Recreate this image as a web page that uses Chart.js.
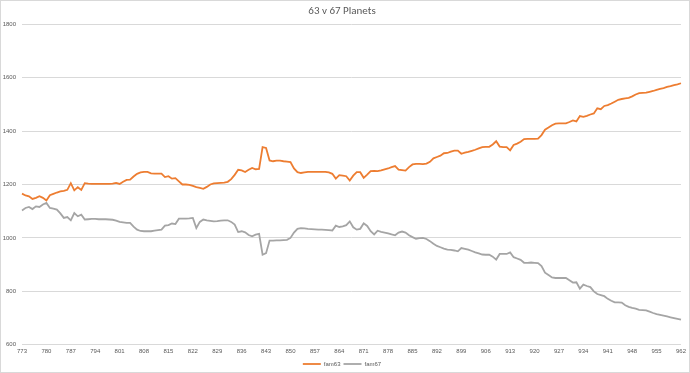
<!DOCTYPE html>
<html>
<head>
<meta charset="utf-8">
<script src="https://cdn.jsdelivr.net/npm/chart.js@4"></script>
<style>
  body { margin: 0; background: #fff; }
  #wrap { width: 690px; height: 373px; box-sizing: border-box; border: 1px solid #d9d9d9; position: relative; }
</style>
</head>
<body>
<div id="wrap"><canvas id="chart"></canvas></div>
<script>
'use strict'

const firstYear = 773
const lastYear = 962
const labelStep = 7

const yTicks = [600, 800, 1000, 1200, 1400, 1600, 1800]

const fam63 = [
  1166, 1159, 1156, 1146, 1150, 1156, 1150, 1140, 1160, 1165,
  1170, 1174, 1176, 1180, 1205, 1178, 1190, 1180, 1205, 1203,
  1202, 1202, 1202, 1202, 1202, 1202, 1203, 1206, 1202, 1210,
  1217, 1218, 1230, 1240, 1245, 1247, 1247, 1242, 1241, 1241,
  1241, 1228, 1231, 1222, 1224, 1212, 1200, 1200, 1199, 1195,
  1190, 1187, 1184, 1191, 1200, 1204, 1205, 1206, 1207, 1210,
  1220, 1236, 1255, 1253, 1247, 1255, 1262, 1257, 1258, 1340,
  1337, 1290, 1287, 1289, 1289, 1287, 1286, 1284, 1260, 1246,
  1243, 1245, 1247, 1247, 1247, 1247, 1247, 1247, 1245, 1240,
  1222, 1235, 1233, 1231, 1215, 1233, 1246, 1246, 1225, 1237,
  1250, 1251, 1250, 1253, 1257, 1260, 1265, 1269, 1256, 1254,
  1252, 1265, 1275, 1277, 1277, 1276, 1278, 1285, 1298, 1303,
  1308, 1317, 1318, 1323, 1327, 1327, 1315, 1319, 1322, 1326,
  1330, 1335, 1340, 1341, 1341, 1350, 1362, 1342, 1340, 1340,
  1328, 1348, 1353, 1360, 1370, 1371, 1371, 1371, 1372, 1385,
  1405, 1413, 1422, 1428, 1429, 1429, 1429, 1434, 1440, 1436,
  1456, 1453, 1457, 1462, 1466, 1485, 1482, 1494, 1497, 1503,
  1510, 1517, 1520, 1522, 1524, 1530, 1537, 1542, 1543, 1544,
  1547, 1550, 1554, 1558, 1561, 1565, 1568, 1572, 1575, 1579
]

const fam67 = [
  1103, 1112, 1116, 1108, 1118, 1116, 1125, 1131, 1112, 1110,
  1106, 1092, 1075, 1078, 1066, 1093, 1081, 1087, 1069, 1070,
  1071, 1071, 1070, 1070, 1070, 1069, 1068, 1065, 1060, 1058,
  1056, 1056, 1042, 1031, 1026, 1025, 1025, 1025, 1027, 1029,
  1031, 1046, 1048, 1054, 1052, 1072, 1072, 1072, 1073, 1075,
  1037, 1060, 1069, 1066, 1064, 1062, 1063, 1065, 1066, 1066,
  1060, 1050, 1022, 1025, 1021, 1011, 1006, 1012, 1015, 937,
  943, 990, 990, 991, 991, 992, 993, 1000, 1020, 1034,
  1037, 1036, 1034, 1033, 1032, 1031, 1031, 1030, 1029, 1028,
  1046, 1041, 1043, 1048, 1062, 1040, 1031, 1034, 1055, 1045,
  1025, 1013, 1027, 1023, 1020, 1017, 1013, 1010, 1020, 1024,
  1020, 1010, 1003, 997, 999, 1000, 996, 988, 978, 970,
  965, 960, 956, 955, 953, 950, 962, 959, 956, 951,
  946, 942, 938, 937, 937, 930, 919, 940, 940, 940,
  946, 928, 923, 918, 907, 907, 908, 907, 906, 895,
  870, 861, 852, 850, 850, 850, 850, 842, 833, 834,
  810, 825, 820, 816, 800, 790, 786, 782, 772, 765,
  759, 759, 758, 748, 742, 738, 735, 731, 730, 729,
  724, 719, 715, 712, 709, 706, 703, 700, 697, 694
]

function getYears () {
  const years = []
  for (let year = firstYear; year <= lastYear; year++) {
    years.push(String(year))
  }
  return years
}

function makeDataset (label, data, color) {
  return {
    label: label,
    data: data,
    borderColor: color,
    backgroundColor: color,
    borderWidth: 1.8,
    pointRadius: 0,
    pointHoverRadius: 0,
    pointStyle: 'line',
    tension: 0,
    fill: false
  }
}

function renderChart () {
  const textColor = '#595959'
  const gridColor = '#d9d9d9'
  const context = document.getElementById('chart').getContext('2d')
  return new Chart(context, {
    type: 'line',
    data: {
      labels: getYears(),
      datasets: [
        makeDataset('fam63', fam63, '#ed7d31'),
        makeDataset('fam67', fam67, '#a5a5a5')
      ]
    },
    options: {
      responsive: true,
      maintainAspectRatio: false,
      animation: false,
      layout: { padding: { left: 0, right: 6, top: 0, bottom: -5 } },
      plugins: {
        title: {
          display: true,
          text: '63 v 67 Planets',
          color: textColor,
          font: { family: 'Carlito, "Liberation Sans", sans-serif', size: 11, weight: 'normal' },
          padding: { top: 4, bottom: 6 }
        },
        legend: {
          position: 'bottom',
          labels: {
            color: textColor,
            font: { size: 6 },
            usePointStyle: true,
            pointStyleWidth: 18,
            boxHeight: 6,
            padding: 3
          }
        },
        tooltip: { enabled: false }
      },
      scales: {
        x: {
          offset: false,
          grid: { display: false, drawTicks: false },
          border: { color: gridColor },
          ticks: {
            color: textColor,
            font: { size: 6 },
            autoSkip: false,
            maxRotation: 0,
            padding: 3,
            callback: function (value, index) {
              return index % labelStep === 0 ? this.getLabelForValue(value) : null
            }
          }
        },
        y: {
          min: yTicks[0],
          max: yTicks[yTicks.length - 1],
          afterBuildTicks: function (scale) {
            scale.ticks = yTicks.map(v => ({ value: v }))
          },
          afterFit: function (scale) {
            scale.width = 21
          },
          grid: { color: gridColor, drawTicks: false },
          border: { display: false },
          ticks: {
            color: textColor,
            font: { size: 6 },
            padding: 6,
            callback: value => String(value)
          }
        }
      }
    }
  })
}

renderChart()
</script>
</body>
</html>
